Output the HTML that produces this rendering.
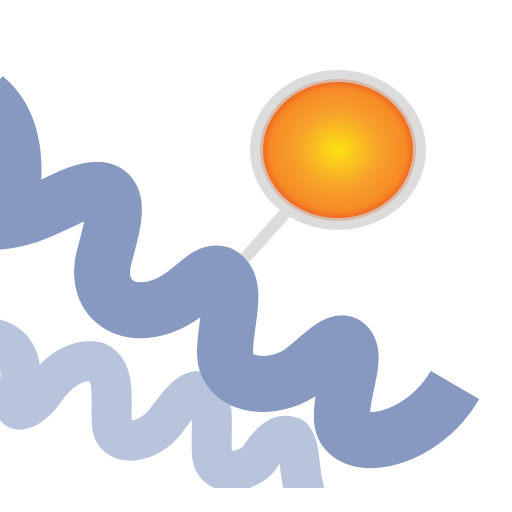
<!DOCTYPE html>
<html><head><meta charset="utf-8"><style>html,body{margin:0;padding:0;background:#fff}svg{display:block}</style></head>
<body>
<svg width="512" height="512" viewBox="0 0 512 512">
<defs>
<radialGradient id="sun" cx="0.5" cy="0.5" r="0.5">
<stop offset="0" stop-color="#fde214"/>
<stop offset="0.55" stop-color="#f7a12a"/>
<stop offset="0.9" stop-color="#f68a26"/>
<stop offset="1" stop-color="#f26a21"/>
</radialGradient>
</defs>
<g fill="none" stroke="#b8c3dc" stroke-width="40" stroke-linecap="butt" stroke-linejoin="round">
<path d="M -10,338 C 20,342 25,370 17,395 C 8,418 30,412 45,390 C 60,368 80,358 97,362 C 117,372 110,400 112,425 C 115,450 150,442 165,422 C 180,402 190,388 202,392 C 217,402 210,430 212,455 C 215,480 250,472 260,457 C 270,442 280,432 292,437 C 302,447 297,470 307,500"/>
</g>
<rect x="0" y="488" width="512" height="24" fill="#fff"/>
<line x1="245" y1="258" x2="288" y2="210" stroke="#dcdcdc" stroke-width="12"/>
<g fill="none" stroke="#8799c1" stroke-width="56" stroke-linecap="butt" stroke-linejoin="round">
<path d="M -15,98 C 15,122 20,170 6,220"/>
<path d="M -10,222 C 40,222 70,188 100,190 C 125,194 110,232 103,262 C 96,302 130,322 170,303 C 195,291 205,270 220,274 C 240,284 225,322 225,352 C 225,387 270,392 300,373 C 320,358 335,340 345,344 C 360,354 340,392 342,420 C 345,455 420,445 455,385"/>
</g>
<g>
<ellipse cx="338" cy="150" rx="88" ry="80" fill="#dcdcdc"/>
<ellipse cx="338" cy="150" rx="78" ry="71" fill="#dbb9a8"/>
<ellipse cx="338" cy="150" rx="75" ry="68" fill="url(#sun)"/>
</g>
</svg>
</body></html>
